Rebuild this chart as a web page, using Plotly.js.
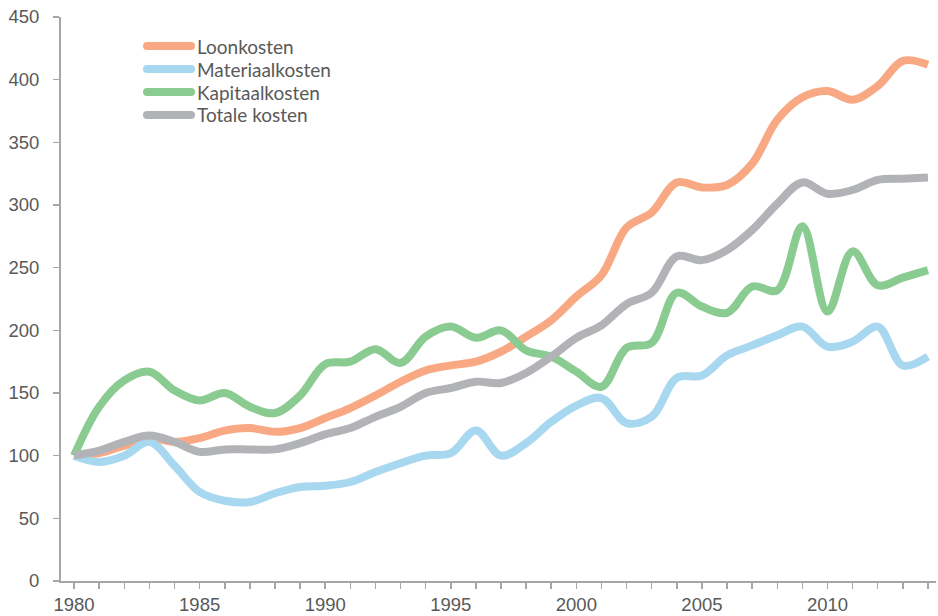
<!DOCTYPE html>
<html>
<head>
<meta charset="utf-8">
<script src="https://cdn.plot.ly/plotly-3.0.1.min.js"></script>
<style>
html,body{margin:0;padding:0;background:#fff;}
#chart{width:938px;height:616px;}
</style>
</head>
<body>
<div id="chart"></div>
<script>
const years = [1980,1981,1982,1983,1984,1985,1986,1987,1988,1989,1990,1991,1992,1993,1994,1995,1996,1997,1998,1999,2000,2001,2002,2003,2004,2005,2006,2007,2008,2009,2010,2011,2012,2013,2014];
const loonkosten = [100,102,108,114,111,114,120,122,119,122,130,138,148,159,168,172,175,183,195,208,227,244,282,294,318,314,316,333,368,386,391,384,395,415,412];
const materiaalkosten = [100,95,100,111,92,71,64,63,70,75,76,79,87,94,100,102,120,100,110,127,140,146,126,131,162,164,180,188,196,203,187,191,203,172,179];
const kapitaalkosten = [100,139,160,167,152,144,150,139,134,148,173,175,185,174,195,203,194,200,184,179,167,155,186,190,230,219,214,235,232,283,215,263,236,242,248];
const totaleKosten = [100,104,111,116,111,103,105,105,105,110,117,122,131,139,150,154,159,158,166,179,194,204,221,230,259,256,264,280,301,318,309,312,320,321,322];
const seriesNames = ["Loonkosten","Materiaalkosten","Kapitaalkosten","Totale kosten"];
const seriesColors = ["#F8A983","#A8D8F0","#89CB90","#B2B3B7"];
const xTickLabels = years.map(y => (y % 5 === 0 ? String(y) : ""));
const yTickVals = [0,50,100,150,200,250,300,350,400,450];

const seriesData = [loonkosten, materiaalkosten, kapitaalkosten, totaleKosten];
const traces = seriesData.map((vals, i) => ({
  x: years,
  y: vals,
  type: "scatter",
  mode: "lines",
  name: seriesNames[i],
  line: {color: seriesColors[i], width: 8, shape: "spline", smoothing: 1},
  hoverinfo: "skip",
  showlegend: false
}));

const axisColor = "#A6A6A6";
const textColor = "#595959";

// Custom legend (layout styling, paper coordinates)
const W = 938, H = 616;
const M = {l: 61, r: 2, t: 17, b: 35};
const plotW = W - M.l - M.r, plotH = H - M.t - M.b;
const px2x = px => (px - M.l) / plotW;
const py2y = py => (H - M.b - py) / plotH;
const legendRowsPy = [46, 69, 92, 115];
const legendShapes = [];
const legendAnnots = [];
seriesNames.forEach((name, i) => {
  const yy = py2y(legendRowsPy[i]);
  legendShapes.push({
    type: "line", xref: "paper", yref: "paper",
    x0: px2x(147), x1: px2x(191), y0: yy, y1: yy,
    line: {color: seriesColors[i], width: 8}
  });
  legendShapes.push({
    type: "circle", xref: "paper", yref: "paper",
    x0: px2x(143), x1: px2x(151), y0: py2y(legendRowsPy[i] + 4), y1: py2y(legendRowsPy[i] - 4),
    fillcolor: seriesColors[i], line: {width: 0}
  });
  legendShapes.push({
    type: "circle", xref: "paper", yref: "paper",
    x0: px2x(187), x1: px2x(195), y0: py2y(legendRowsPy[i] + 4), y1: py2y(legendRowsPy[i] - 4),
    fillcolor: seriesColors[i], line: {width: 0}
  });
  legendAnnots.push({
    xref: "paper", yref: "paper", x: px2x(195), y: yy,
    xanchor: "left", yanchor: "middle", showarrow: false,
    text: name,
    font: {family: "Lato, 'Open Sans', sans-serif", size: 19, color: textColor}
  });
});

const layout = {
  width: W,
  height: H,
  margin: M,
  paper_bgcolor: "#ffffff",
  plot_bgcolor: "#ffffff",
  showlegend: false,
  shapes: legendShapes,
  annotations: legendAnnots,
  xaxis: {
    range: [1979.48, 2014.32],
    tickvals: years,
    ticktext: xTickLabels,
    ticks: "outside",
    ticklen: 6,
    tickwidth: 1.5,
    tickcolor: axisColor,
    showline: true,
    linecolor: axisColor,
    linewidth: 2,
    showgrid: false,
    zeroline: false,
    tickfont: {family: "'Liberation Sans', Arial, sans-serif", size: 18.5, color: textColor},
    fixedrange: true
  },
  yaxis: {
    range: [0, 450],
    tickvals: yTickVals,
    ticks: "outside",
    ticklen: 6,
    tickwidth: 1.5,
    tickcolor: axisColor,
    showline: true,
    linecolor: axisColor,
    linewidth: 2,
    showgrid: false,
    zeroline: false,
    ticklabelstandoff: 10,
    tickfont: {family: "'Liberation Sans', Arial, sans-serif", size: 18.5, color: textColor},
    fixedrange: true
  }
};

Plotly.newPlot("chart", traces, layout, {displayModeBar: false, staticPlot: true});
</script>
</body>
</html>
